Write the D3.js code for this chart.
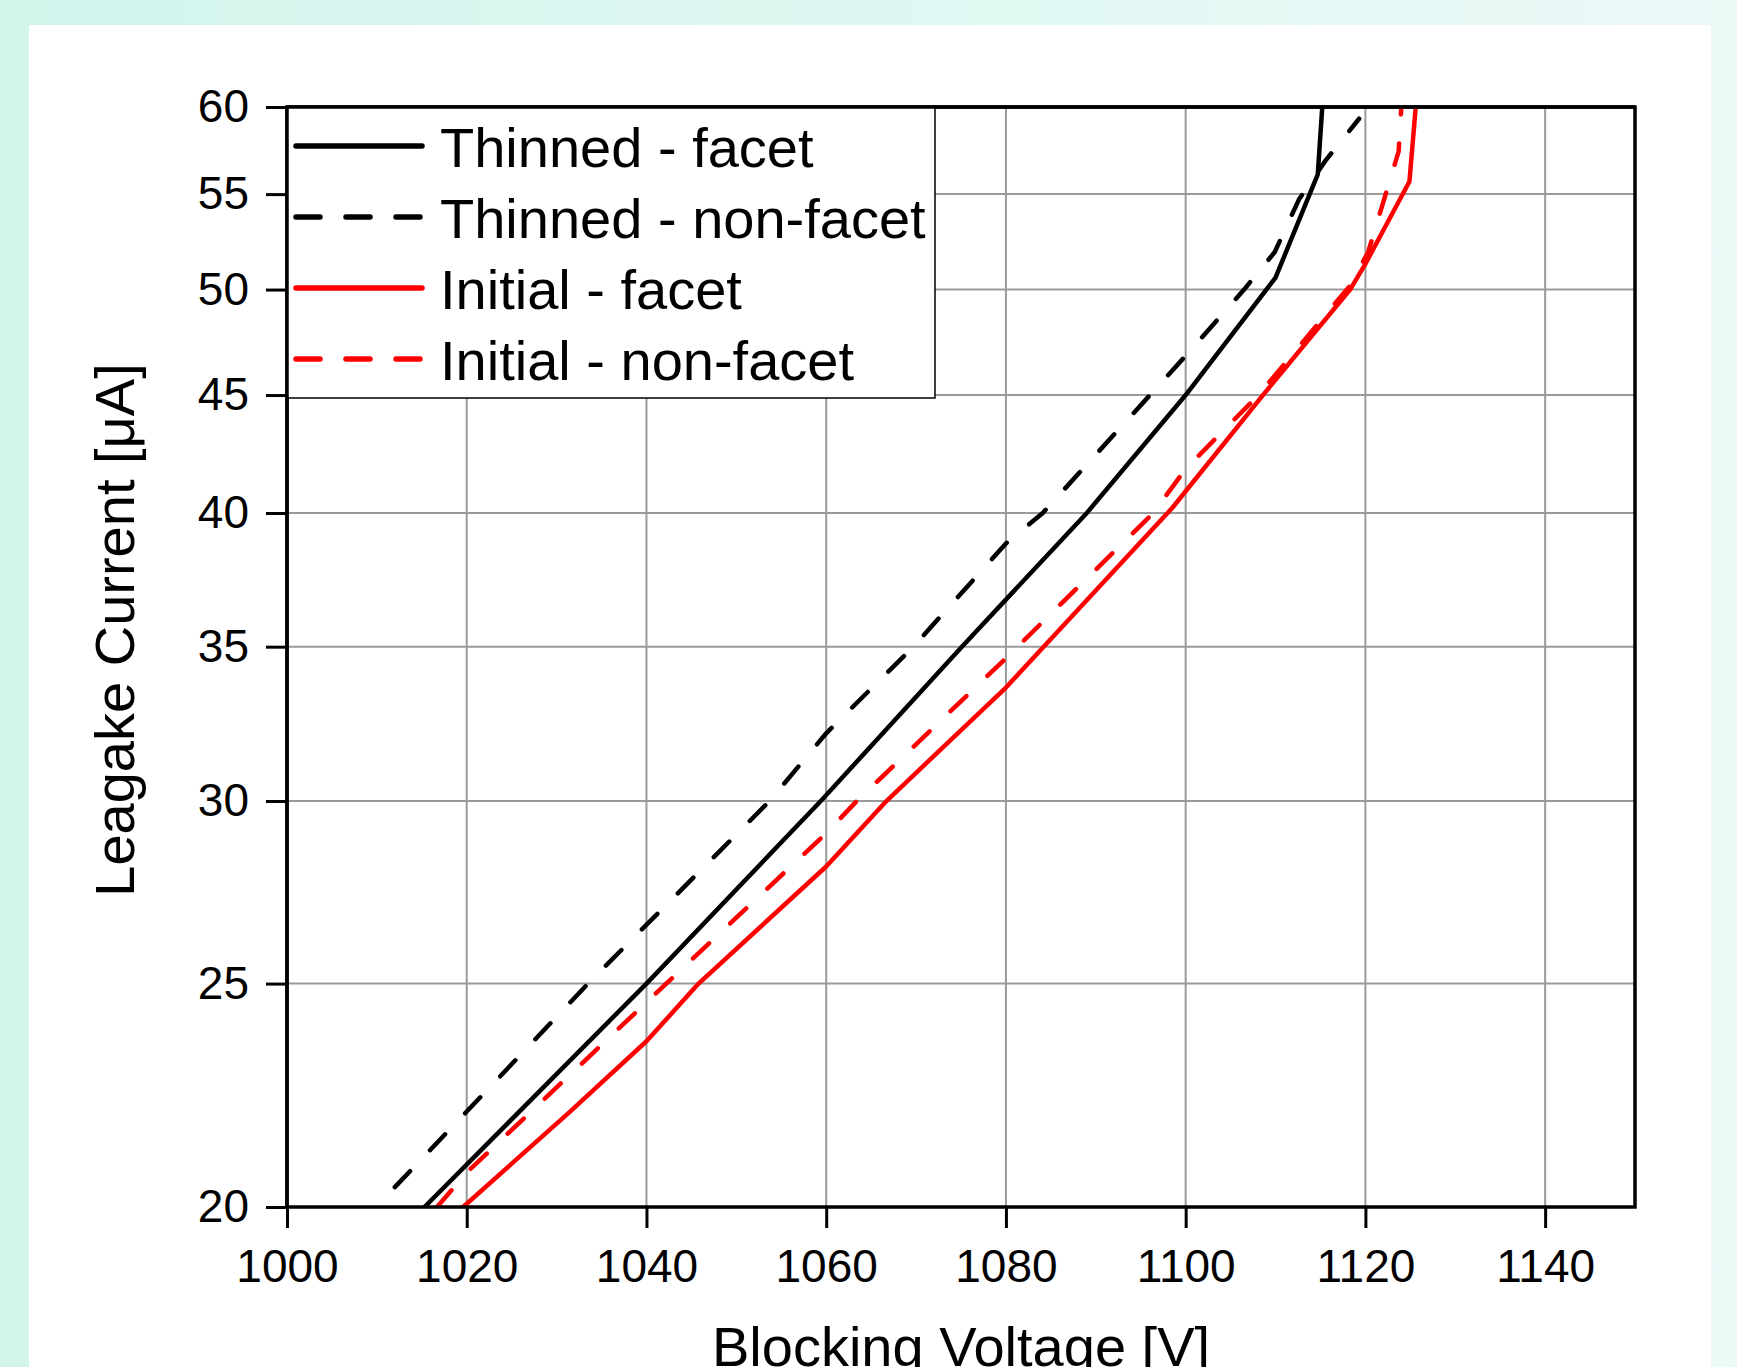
<!DOCTYPE html>
<html>
<head>
<meta charset="utf-8">
<script src="https://cdn.jsdelivr.net/npm/d3@7"></script>
<style>
  html, body { margin: 0; padding: 0; }
  body { width: 1737px; height: 1367px; overflow: hidden;
         background: linear-gradient(to right, #d2f5ec, #ebf9f7); }
  svg { display: block; }
  text { font-family: "Liberation Sans", Arial, sans-serif; fill: #000; }
</style>
</head>
<body>
<svg id="chart" width="1737" height="1367"></svg>
<script>
// ---------- data ----------
const voltageTicks = [1000, 1020, 1040, 1060, 1080, 1100, 1120, 1140];
const currentTicks = [20, 25, 30, 35, 40, 45, 50, 55, 60];

const seriesNames = ["Thinned - facet", "Thinned - non-facet", "Initial - facet", "Initial - non-facet"];

const thinnedFacetV = [1015.3, 1040.0, 1059.4, 1075.1, 1089.0, 1100.0, 1110.0, 1114.7, 1115.2];
const thinnedFacetI = [20.0,   25.0,   30.0,   35.0,   40.0,   45.0,   50.6,   56.1,   60.0];

const thinnedNonFacetV = [1012.0, 1020.0, 1033.5, 1053.7, 1060.0, 1069.7, 1080.0, 1084.1, 1100.0, 1106.5, 1109.9, 1112.6, 1115.6, 1119.3];
const thinnedNonFacetI = [20.4,   22.0,   25.0,   30.0,   32.1,   35.0,   38.8,   40.0,   46.8,   50.0,   51.9,   54.7,   56.9,   59.3];

const initialFacetV = [1019.6, 1025.1, 1031.5, 1040.0, 1045.8, 1060.0, 1066.7, 1080.0, 1084.2, 1098.5, 1108.6, 1118.3, 1120.0, 1124.9, 1125.6];
const initialFacetI = [20.0,   20.9,   22.0,   23.6,   25.0,   28.1,   30.0,   33.6,   35.0,   40.2,   45.0,   50.0,   51.3,   55.7,   60.0];

const initialNonFacetV = [1016.7, 1020.0, 1042.2, 1060.0, 1063.4, 1080.0, 1081.3, 1096.4, 1100.0, 1108.1, 1118.3, 1120.3, 1123.7, 1124.0];
const initialNonFacetI = [20.0,   20.7,   25.0,   29.05,  30.0,   34.6,   35.0,   40.0,   41.8,   45.0,   50.2,   51.9,   57.4,   60.0];

// ---------- build ----------
const series = [
  { name: seriesNames[0], v: thinnedFacetV,    i: thinnedFacetI,    color: "#000000", dash: null },
  { name: seriesNames[1], v: thinnedNonFacetV, i: thinnedNonFacetI, color: "#000000", dash: "22,29" },
  { name: seriesNames[2], v: initialFacetV,    i: initialFacetI,    color: "#ff0000", dash: null },
  { name: seriesNames[3], v: initialNonFacetV, i: initialNonFacetI, color: "#ff0000", dash: "22,29" }
];

const svg = d3.select("#chart");
const L = 287, R = 1635, T = 107, B = 1207;

// white panel
svg.append("rect").attr("x", 29).attr("y", 25).attr("width", 1682).attr("height", 1400).attr("fill", "#ffffff");

const x = d3.scaleLinear().domain([1000, 1150]).range([L, R]);
const y = d3.scaleLog().domain([20, 60]).range([B, T]);

// grid
const grid = svg.append("g").attr("stroke", "#9a9a9a").attr("stroke-width", 2);
grid.selectAll("line.vx").data(voltageTicks.filter(d => d > 1000)).join("line")
  .attr("x1", d => x(d)).attr("x2", d => x(d)).attr("y1", T).attr("y2", B);
grid.selectAll("line.hy").data(currentTicks.filter(d => d > 20 && d < 60)).join("line")
  .attr("x1", L).attr("x2", R).attr("y1", d => y(d)).attr("y2", d => y(d));

// clip
svg.append("clipPath").attr("id", "plotclip").append("rect")
  .attr("x", L).attr("y", T).attr("width", R - L).attr("height", B - T);

const line = d3.line().x(d => x(d[0])).y(d => y(d[1]));
const plot = svg.append("g").attr("clip-path", "url(#plotclip)");
series.forEach(s => {
  const pts = s.v.map((v, k) => [v, s.i[k]]);
  plot.append("path").attr("d", line(pts))
    .attr("fill", "none").attr("stroke", s.color).attr("stroke-width", 4.5)
    .attr("stroke-linecap", "round").attr("stroke-linejoin", "round")
    .attr("stroke-dasharray", s.dash);
});

// axes
const xAxis = d3.axisBottom(x).tickValues(voltageTicks).tickFormat(d3.format("d"))
  .tickSize(21).tickPadding(21);
const gx = svg.append("g").attr("transform", `translate(0,${B})`).call(xAxis);
gx.select(".domain").remove();
gx.selectAll(".tick line").attr("stroke", "#000").attr("stroke-width", 3);
gx.selectAll(".tick text").attr("font-size", 46).attr("font-family", "Liberation Sans, Arial, sans-serif");

const yAxis = d3.axisLeft(y).tickValues(currentTicks).tickFormat(d3.format("d"))
  .tickSize(21).tickPadding(17);
const gy = svg.append("g").attr("transform", `translate(${L},0)`).call(yAxis);
gy.select(".domain").remove();
gy.selectAll(".tick line").attr("stroke", "#000").attr("stroke-width", 3);
gy.selectAll(".tick text").attr("font-size", 46).attr("font-family", "Liberation Sans, Arial, sans-serif");

// frame
svg.append("rect").attr("x", L).attr("y", T).attr("width", R - L).attr("height", B - T)
  .attr("fill", "none").attr("stroke", "#000").attr("stroke-width", 3.5);

// legend
const lg = svg.append("g");
lg.append("rect").attr("x", L).attr("y", T).attr("width", 648).attr("height", 291)
  .attr("fill", "#fff").attr("stroke", "#000").attr("stroke-width", 1.5);
series.forEach((s, k) => {
  const cy = 146 + k * 71;
  lg.append("line").attr("x1", 296).attr("x2", 422).attr("y1", cy).attr("y2", cy)
    .attr("stroke", s.color).attr("stroke-width", 5.5).attr("stroke-linecap", "round")
    .attr("stroke-dasharray", s.dash ? "24,26" : null);
  lg.append("text").attr("x", 440).attr("y", cy + 21).attr("font-size", 56).text(s.name);
});
svg.append("line").attr("x1", L).attr("x2", R).attr("y1", T).attr("y2", T).attr("stroke", "#000").attr("stroke-width", 3.5);
svg.append("line").attr("x1", L).attr("x2", L).attr("y1", T).attr("y2", B).attr("stroke", "#000").attr("stroke-width", 3.5);

// axis titles (bottom title is cut by the page edge, as in the reference)
svg.append("text").attr("x", (L + R) / 2).attr("y", 1366).attr("text-anchor", "middle")
  .attr("font-size", 56).text("Blocking Voltage [V]");
svg.append("text").attr("transform", "translate(134,630) rotate(-90)").attr("text-anchor", "middle")
  .attr("font-size", 56).text("Leagake Current [μA]");
</script>
</body>
</html>
